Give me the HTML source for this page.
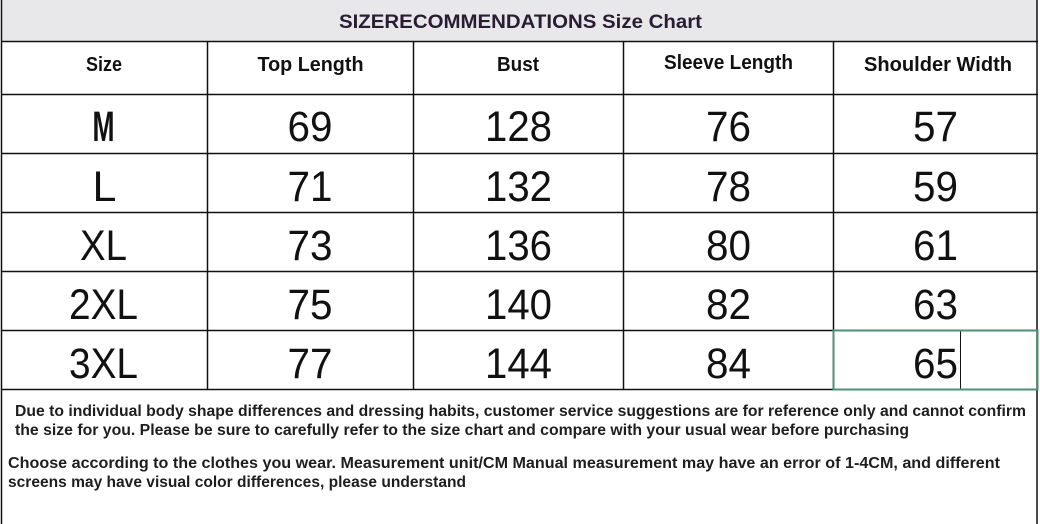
<!DOCTYPE html>
<html>
<head>
<meta charset="utf-8">
<style>
html,body{margin:0;padding:0;background:#fff;}
svg{display:block;}
</style>
</head>
<body>
<svg width="1040" height="524" viewBox="0 0 1040 524" xmlns="http://www.w3.org/2000/svg">
  <rect x="0" y="0" width="1040" height="524" fill="#ffffff"/>
  <!-- title bar -->
  <rect x="1" y="0" width="1036" height="41" fill="#e8e8ea"/>
  <text x="520.5" y="28" text-anchor="middle" font-family="Liberation Sans, sans-serif" font-weight="bold" font-size="19" fill="#2a1c33" textLength="363" lengthAdjust="spacingAndGlyphs">SIZERECOMMENDATIONS Size Chart</text>

  <!-- table lines -->
  <g stroke="#111" stroke-width="1.5" fill="none">
    <line x1="1.5" y1="0" x2="1.5" y2="524"/>
    <line x1="1037" y1="0" x2="1037" y2="524"/>
    <line x1="1" y1="41.5" x2="1038" y2="41.5"/>
    <line x1="1" y1="94.5" x2="1038" y2="94.5"/>
    <line x1="1" y1="153.5" x2="1038" y2="153.5"/>
    <line x1="1" y1="212.5" x2="1038" y2="212.5"/>
    <line x1="1" y1="271.5" x2="1038" y2="271.5"/>
    <line x1="1" y1="330.5" x2="1038" y2="330.5"/>
    <line x1="1" y1="389.5" x2="1038" y2="389.5"/>
    <line x1="207.5" y1="41" x2="207.5" y2="390"/>
    <line x1="413.5" y1="41" x2="413.5" y2="390"/>
    <line x1="623.5" y1="41" x2="623.5" y2="390"/>
    <line x1="833.5" y1="41" x2="833.5" y2="390"/>
  </g>
  <!-- green selection box -->
  <line x1="960.5" y1="330" x2="960.5" y2="390" stroke="#111" stroke-width="1"/>
  <rect x="833.5" y="330.5" width="204" height="59" fill="none" stroke="#4f8f73" stroke-width="2"/>

  <!-- header -->
  <g font-family="Liberation Sans, sans-serif" font-weight="bold" font-size="20" fill="#111" text-anchor="middle">
    <text x="104" y="71" textLength="36" lengthAdjust="spacingAndGlyphs">Size</text>
    <text x="310.5" y="71" textLength="106" lengthAdjust="spacingAndGlyphs">Top Length</text>
    <text x="518" y="71" textLength="42" lengthAdjust="spacingAndGlyphs">Bust</text>
    <text x="728.5" y="69" textLength="129" lengthAdjust="spacingAndGlyphs">Sleeve Length</text>
    <text x="938" y="71" textLength="148" lengthAdjust="spacingAndGlyphs">Shoulder Width</text>
  </g>

  <!-- size column -->
  <g font-family="Liberation Sans, sans-serif" font-size="43" fill="#111" text-anchor="middle">
    <text x="103.5" y="141" font-weight="bold" textLength="22" lengthAdjust="spacingAndGlyphs">M</text>
    <text x="104.5" y="201">L</text>
    <text x="103.5" y="260" textLength="47" lengthAdjust="spacingAndGlyphs">XL</text>
    <text x="103.5" y="319" textLength="69" lengthAdjust="spacingAndGlyphs">2XL</text>
    <text x="103.5" y="378" textLength="69" lengthAdjust="spacingAndGlyphs">3XL</text>
  </g>

  <!-- numbers -->
  <g font-family="Liberation Sans, sans-serif" font-size="43" fill="#111" text-anchor="middle">
    <text x="310" y="141" textLength="45" lengthAdjust="spacingAndGlyphs">69</text>
    <text x="310" y="201" textLength="45" lengthAdjust="spacingAndGlyphs">71</text>
    <text x="310" y="260" textLength="45" lengthAdjust="spacingAndGlyphs">73</text>
    <text x="310" y="319" textLength="45" lengthAdjust="spacingAndGlyphs">75</text>
    <text x="310" y="378" textLength="45" lengthAdjust="spacingAndGlyphs">77</text>

    <text x="518.5" y="141" textLength="67" lengthAdjust="spacingAndGlyphs">128</text>
    <text x="518.5" y="201" textLength="67" lengthAdjust="spacingAndGlyphs">132</text>
    <text x="518.5" y="260" textLength="67" lengthAdjust="spacingAndGlyphs">136</text>
    <text x="518.5" y="319" textLength="67" lengthAdjust="spacingAndGlyphs">140</text>
    <text x="518.5" y="378" textLength="67" lengthAdjust="spacingAndGlyphs">144</text>

    <text x="728.5" y="141" textLength="45" lengthAdjust="spacingAndGlyphs">76</text>
    <text x="728.5" y="201" textLength="45" lengthAdjust="spacingAndGlyphs">78</text>
    <text x="728.5" y="260" textLength="45" lengthAdjust="spacingAndGlyphs">80</text>
    <text x="728.5" y="319" textLength="45" lengthAdjust="spacingAndGlyphs">82</text>
    <text x="728.5" y="378" textLength="45" lengthAdjust="spacingAndGlyphs">84</text>

    <text x="935.5" y="141" textLength="45" lengthAdjust="spacingAndGlyphs">57</text>
    <text x="935.5" y="201" textLength="45" lengthAdjust="spacingAndGlyphs">59</text>
    <text x="935.5" y="260" textLength="45" lengthAdjust="spacingAndGlyphs">61</text>
    <text x="935.5" y="319" textLength="45" lengthAdjust="spacingAndGlyphs">63</text>
    <text x="935.5" y="378" textLength="45" lengthAdjust="spacingAndGlyphs">65</text>
  </g>

  <!-- footer notes -->
  <g font-family="Liberation Sans, sans-serif" font-weight="bold" font-size="15.5" fill="#1e1e1e">
    <text x="15" y="416" textLength="1011" lengthAdjust="spacingAndGlyphs">Due to individual body shape differences and dressing habits, customer service suggestions are for reference only and cannot confirm</text>
    <text x="15" y="435" textLength="894" lengthAdjust="spacingAndGlyphs">the size for you. Please be sure to carefully refer to the size chart and compare with your usual wear before purchasing</text>
    <text x="8" y="468" textLength="992" lengthAdjust="spacingAndGlyphs">Choose according to the clothes you wear. Measurement unit/CM Manual measurement may have an error of 1-4CM, and different</text>
    <text x="8" y="487" textLength="458" lengthAdjust="spacingAndGlyphs">screens may have visual color differences, please understand</text>
  </g>
</svg>
</body>
</html>
